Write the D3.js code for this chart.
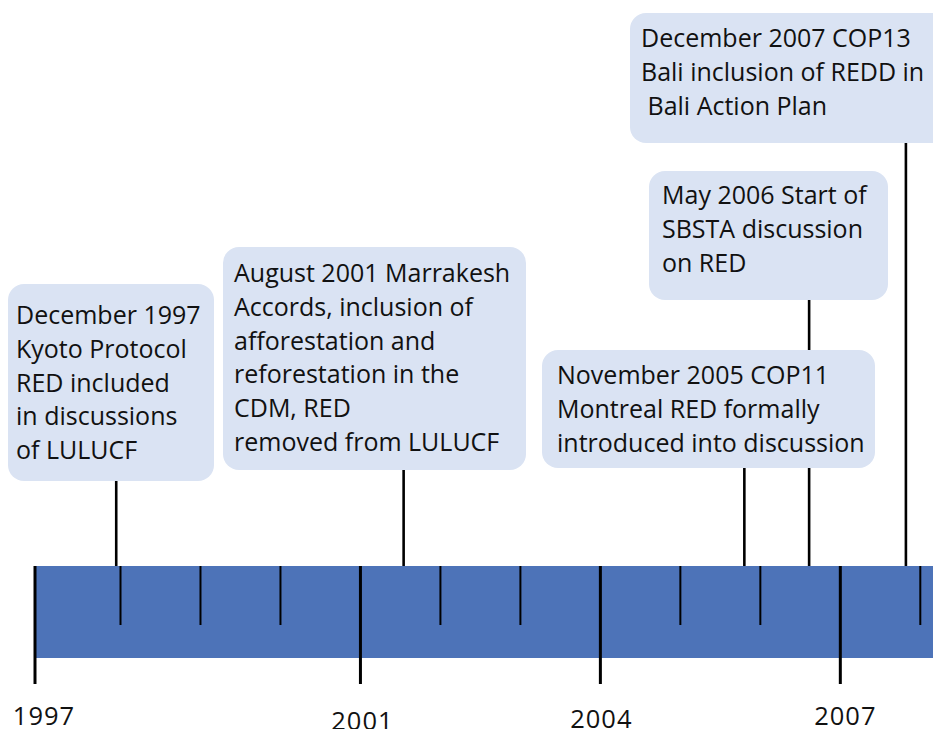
<!DOCTYPE html>
<html>
<head>
<meta charset="utf-8">
<script src="https://cdn.jsdelivr.net/npm/d3@7"></script>
<style>
  html, body { margin: 0; padding: 0; background: #fff; }
  svg { display: block; }
  text { font-family: "Open Sans", sans-serif; fill: #111; }
</style>
</head>
<body>
<div id="chart"></div>
<script>
// timeline years
const majorYears = [1997, 2001, 2004, 2007];
const allYears = [1997, 1998, 1999, 2000, 2001, 2002, 2003, 2004, 2005, 2006, 2007, 2008];

// events (decimal year) and their text lines
const eventDates = [1997.95, 2001.54, 2005.8, 2006.61, 2007.82];
const eventLines = [
    ["December 1997", "Kyoto Protocol", "RED included", "in discussions", "of LULUCF"],
    ["August 2001 Marrakesh", "Accords, inclusion of", "afforestation and", "reforestation in the", "CDM, RED", "removed from LULUCF"],
    ["November 2005 COP11", "Montreal RED formally", "introduced into discussion"],
    ["May 2006 Start of", "SBSTA discussion", "on RED"],
    ["December 2007 COP13", "Bali inclusion of REDD in", " Bali Action Plan"]
];

// box layout (position of each callout)
const boxLayout = [
    { x: 8, y: 284, w: 206, h: 197, tx: 16, ty: 40 },
    { x: 223, y: 247, w: 303, h: 223, tx: 234, ty: 35 },
    { x: 542, y: 350, w: 333, h: 118, tx: 557, ty: 34 },
    { x: 649, y: 171, w: 239, h: 129, tx: 662, ty: 33 },
    { x: 630, y: 13, w: 320, h: 130, tx: 641, ty: 34 }
];
// year label nudges
const labelLayout = [
    { dx: 9, y: 725 },
    { dx: 2, y: 730 },
    { dx: 1, y: 728 },
    { dx: 5, y: 725 }
];

const width = 933, height = 729;
const barTop = 566, barBottom = 658;

const x = d3.scaleLinear()
    .domain([1997, 1998, 2008])
    .range([35, 120.5, 920.3]);

const svg = d3.select("#chart")
    .append("svg")
    .attr("width", width)
    .attr("height", height);

// stems (drawn first, so boxes sit on top)
const drawOrder = [3, 4, 0, 1, 2];
drawOrder.forEach(i => {
    svg.append("line")
        .attr("x1", x(eventDates[i]))
        .attr("x2", x(eventDates[i]))
        .attr("y1", boxLayout[i].y + boxLayout[i].h - 2)
        .attr("y2", barTop)
        .attr("stroke", "#000")
        .attr("stroke-width", 2.6);
});

// callout boxes
drawOrder.forEach(i => {
    const b = boxLayout[i];
    const g = svg.append("g");
    g.append("rect")
        .attr("x", b.x)
        .attr("y", b.y)
        .attr("width", b.w)
        .attr("height", b.h)
        .attr("rx", 16)
        .attr("fill", "#dae3f3");
    g.append("text")
        .attr("font-size", 25)
        .attr("xml:space", "preserve")
        .style("white-space", "pre")
        .selectAll("tspan")
        .data(eventLines[i])
        .join("tspan")
        .attr("x", b.tx)
        .attr("y", (d, j) => b.y + b.ty + j * 33.8)
        .text(d => d);
});

// the bar
svg.append("rect")
    .attr("x", x(1997))
    .attr("y", barTop)
    .attr("width", width - x(1997))
    .attr("height", barBottom - barTop)
    .attr("fill", "#4d73b8");

// minor ticks
svg.selectAll(".minor")
    .data(allYears.filter(y => !majorYears.includes(y)))
    .join("line")
    .attr("class", "minor")
    .attr("x1", d => x(d))
    .attr("x2", d => x(d))
    .attr("y1", barTop)
    .attr("y2", 625)
    .attr("stroke", "#000")
    .attr("stroke-width", 2);

// major ticks
svg.selectAll(".major")
    .data(majorYears)
    .join("line")
    .attr("class", "major")
    .attr("x1", d => x(d))
    .attr("x2", d => x(d))
    .attr("y1", barTop)
    .attr("y2", 684)
    .attr("stroke", "#000")
    .attr("stroke-width", 3);

// year labels
svg.selectAll(".year")
    .data(majorYears)
    .join("text")
    .attr("class", "year")
    .attr("x", (d, i) => x(d) + labelLayout[i].dx)
    .attr("y", (d, i) => labelLayout[i].y)
    .attr("text-anchor", "middle")
    .attr("font-size", 25.5)
    .attr("letter-spacing", 1)
    .text(d => d);
</script>
</body>
</html>
